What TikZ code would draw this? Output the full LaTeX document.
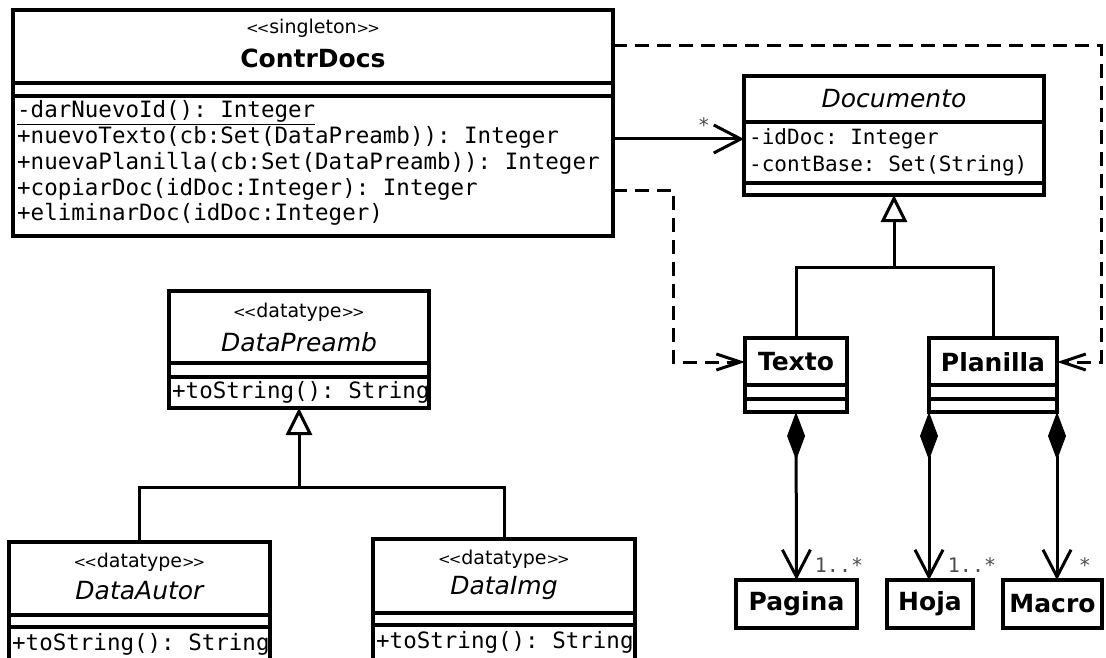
\documentclass[tikz,border=0pt]{standalone}
\usepackage{fontspec}
\setmainfont{DejaVu Sans}
\setmonofont{DejaVu Sans Mono}
\usetikzlibrary{arrows.meta,calc}
\newcommand{\stlt}{{\fontsize{15}{15}\selectfont<\kern-2pt<}}
\newcommand{\stgt}{{\fontsize{15}{15}\selectfont>\kern-2pt>}}
\begin{document}
\begin{tikzpicture}[x=1pt,y=-1pt,
  cls/.style={draw=black, line width=3.2pt, fill=white, inner sep=0pt, outer sep=0pt, anchor=north west},
  sepline/.style={line width=3.2pt},
  conn/.style={line width=3pt},
  stereo/.style={font=\fontsize{19}{19}\selectfont, inner sep=0pt},
  bname/.style={font=\fontsize{25}{25}\selectfont\bfseries, inner sep=0pt},
  iname/.style={font=\fontsize{25}{25}\selectfont\itshape, inner sep=0pt},
  opl/.style={font=\fontsize{22.5}{22.5}\selectfont\ttfamily, anchor=west, inner sep=0pt, text height=15pt, text depth=4pt},
  attr/.style={font=\fontsize{21}{21}\selectfont\ttfamily, anchor=west, inner sep=0pt, text height=15pt, text depth=4pt},
  mult/.style={font=\fontsize{20}{20}\selectfont\ttfamily, text=black!70, inner sep=0pt},
  assoc/.style={conn, -{Straight Barb[length=27pt,width=28pt]}},
  depend/.style={conn, dash pattern=on 14pt off 8pt, -{Straight Barb[length=24pt,width=16pt]}},
  gen/.style={conn, -{Triangle[open, length=27pt, width=26pt, fill=white]}},
  comp/.style={conn, {Diamond[length=48pt,width=18pt]}-{Straight Barb[length=27pt,width=28pt]}}
]
\useasboundingbox (0,0) rectangle (1106,658);
\fill[white] (0,0) rectangle (1106,658);
\clip (0,0) rectangle (1106,658);

% ---------- ContrDocs ----------
\node[cls, minimum width=600pt, minimum height=226pt] (contr) at (13,10) {};
\draw[sepline] (contr.west |- 0,83) -- (contr.east |- 0,83);
\draw[sepline] (contr.west |- 0,96) -- (contr.east |- 0,96);
\node[stereo] (cst) at (313,28) {\stlt singleton\stgt};
\node[bname] (cnm) at (313,58) {ContrDocs};
\node[opl] (o1) at (17,112) {\underline{-darNuevoId(): Integer}};
\node[opl] (o2) at (17,138) {+nuevoTexto(cb:Set(DataPreamb)): Integer};
\node[opl] (o3) at (17,164) {+nuevaPlanilla(cb:Set(DataPreamb)): Integer};
\node[opl] (o4) at (17,190) {+copiarDoc(idDoc:Integer): Integer};
\node[opl] (o5) at (17,215) {+eliminarDoc(idDoc:Integer)};

% ---------- Documento ----------
\node[cls, minimum width=300pt, minimum height=119pt] (doc) at (744,76) {};
\draw[sepline] (doc.west |- 0,122) -- (doc.east |- 0,122);
\draw[sepline] (doc.west |- 0,183) -- (doc.east |- 0,183);
\node[iname] (dnm) at (894,99) {Documento};
\node[attr] (a1) at (749,139) {-idDoc: Integer};
\node[attr] (a2) at (749,166) {-contBase: Set(String)};

% ---------- Texto / Planilla ----------
\node[cls, minimum width=102pt, minimum height=74pt] (texto) at (745,338) {};
\draw[sepline] (texto.west |- 0,385) -- (texto.east |- 0,385);
\draw[sepline] (texto.west |- 0,399) -- (texto.east |- 0,399);
\node[bname] (tnm) at (796,362) {Texto};

\node[cls, minimum width=128pt, minimum height=74pt] (planilla) at (929,338) {};
\draw[sepline] (planilla.west |- 0,385) -- (planilla.east |- 0,385);
\draw[sepline] (planilla.west |- 0,399) -- (planilla.east |- 0,399);
\node[bname] (pnm) at (993,362) {Planilla};

% ---------- Pagina / Hoja / Macro ----------
\node[cls, minimum width=121pt, minimum height=48pt] (pagina) at (736,580) {};
\node[bname] (pgn) at (pagina.center) {Pagina};
\node[cls, minimum width=86pt, minimum height=48pt] (hoja) at (887,580) {};
\node[bname] (hjn) at (hoja.center) {Hoja};
\node[cls, minimum width=99pt, minimum height=48pt] (macro) at (1003,580) {};
\node[bname] (mcn) at (macro.center) {Macro};

% ---------- DataPreamb ----------
\node[cls, minimum width=260pt, minimum height=117pt] (dpre) at (169,291) {};
\draw[sepline] (dpre.west |- 0,363) -- (dpre.east |- 0,363);
\draw[sepline] (dpre.west |- 0,377) -- (dpre.east |- 0,377);
\node[stereo] (dps) at (299,312) {\stlt datatype\stgt};
\node[iname] (dpn) at (299,342) {DataPreamb};
\node[opl] (dpo) at (172,393) {+toString(): String};

% ---------- DataAutor ----------
\node[cls, minimum width=261pt, minimum height=140pt] (daut) at (9,542) {};
\draw[sepline] (daut.west |- 0,615) -- (daut.east |- 0,615);
\draw[sepline] (daut.west |- 0,627) -- (daut.east |- 0,627);
\node[stereo] (das) at (139.5,562) {\stlt datatype\stgt};
\node[iname] (dan) at (139.5,591) {DataAutor};
\node[opl] (dao) at (12,645) {+toString(): String};

% ---------- DataImg ----------
\node[cls, minimum width=262pt, minimum height=140pt] (dimg) at (373,539) {};
\draw[sepline] (dimg.west |- 0,613) -- (dimg.east |- 0,613);
\draw[sepline] (dimg.west |- 0,625) -- (dimg.east |- 0,625);
\node[stereo] (dis) at (504,559) {\stlt datatype\stgt};
\node[iname] (din) at (504,588) {DataImg};
\node[opl] (dio) at (376,643) {+toString(): String};

% ---------- Connectors ----------
\draw[assoc] (contr.east |- a1) -- (doc.west |- a1);
\node[mult] (m0) at (704,125) {*};

\coordinate (dj1) at (673,0);
\draw[depend] (contr.east |- o4) -| (dj1 |- tnm) -- (texto.west |- tnm);

\coordinate (dj2) at (1101,46);
\draw[depend] (contr.east |- dj2) -- (dj2) |- (planilla.east |- pnm);

\coordinate (gj) at (894,267);
\draw[conn] (texto.north) |- (gj) -| (planilla.north);
\draw[gen] (gj) -- (doc.south);

\coordinate (gj2) at (299,487);
\draw[conn] (daut.north) |- (gj2) -| (dimg.north);
\draw[gen] (gj2) -- (dpre.south);

\draw[comp] (texto.south) -- (pagina.north);
\draw[comp] (planilla.south west) -- (hoja.north -| planilla.south west);
\draw[comp] (planilla.south east) -- (macro.north -| planilla.south east);

\node[mult] (m1) at (839,565) {1..*};
\node[mult] (m2) at (972,565) {1..*};
\node[mult] (m3) at (1085,565) {*};
\end{tikzpicture}
\end{document}
